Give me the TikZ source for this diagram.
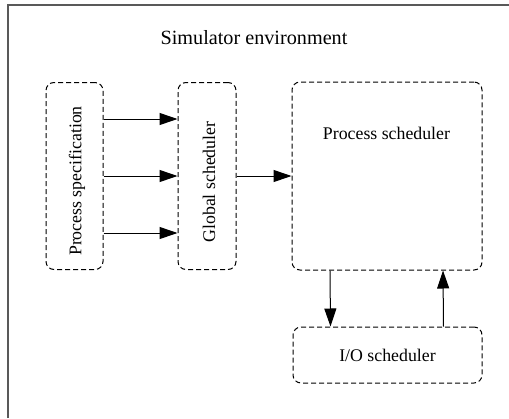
\documentclass[tikz,border=0pt]{standalone}
\usepackage{fontspec}
\setmainfont{Liberation Serif}
\usetikzlibrary{arrows.meta, positioning}

\begin{document}
\begin{tikzpicture}[x=0.5pt, y=-0.5pt,
	every node/.style={font=\fontsize{8.9}{11}\selectfont},
	blk/.style={
		draw,
		dashed,
		dash pattern=on 2.5pt off 1.5pt,
		line width=0.5pt,
		rounded corners=4pt,
		align=center,
		inner sep=0pt
	},
	flow/.style={-{Triangle[length=9pt, width=6pt]}, line width=0.5pt}
	]

	\useasboundingbox (0,0) rectangle (509,418);

	% frame (only top and left edges visible)
	\draw[line width=1pt, gray!70!black] (8,418) -- (8,5) -- (509,5);

	\node[font=\fontsize{10.1}{12}\selectfont] (title) at (254,38) {Simulator environment};

	% Boxes
	\node[blk, minimum width=28.5pt, minimum height=93.5pt] (spec) at (74.5,176) {};
	\node[rotate=90] (spectext) at (77,181) {Process specification};
	\node[blk, minimum width=29pt, minimum height=93.5pt] (global) at (207,176) {};
	\node[rotate=90] (globaltext) at (209,182) {Global scheduler};
	\node[blk, minimum width=95pt, minimum height=94pt] (proc) at (387,176) {};
	\node (proctext) at (386.5,133) {Process scheduler};
	\node[blk, minimum width=94.5pt, minimum height=28pt] (io) at (387.5,355) {I/O scheduler};

	% Arrows
	\draw[flow] ([yshift=28.5pt]spec.east) -- ([yshift=28.5pt]global.west);
	\draw[flow] (spec.east) -- (global.west);
	\draw[flow] ([yshift=-28.5pt]spec.east) -- ([yshift=-28.5pt]global.west);
	\draw[flow] (global.east) -- (proc.west);
	\draw[flow] ([xshift=-28.5pt]proc.south) -- ([xshift=-28.5pt]io.north);
	\draw[flow] ([xshift=28pt]io.north) -- ([xshift=28pt]proc.south);

\end{tikzpicture}
\end{document}
